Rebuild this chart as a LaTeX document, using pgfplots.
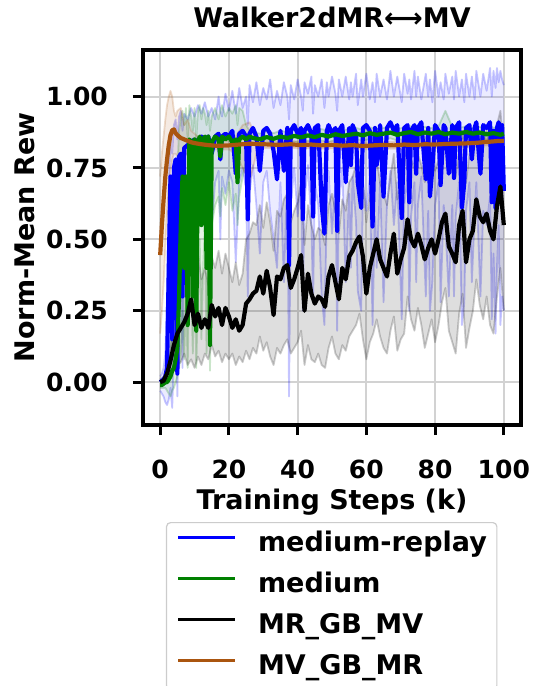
\documentclass[border=0pt]{standalone}
\usepackage{fontspec}
\setmainfont{DejaVu Sans}
\newfontfamily\arrowfont{DejaVu Sans}
\usepackage{pgfplots}
\usepackage{pgfplotstable}
\pgfplotsset{compat=1.18}
\definecolor{mrblue}{RGB}{0,0,255}
\definecolor{mgreen}{RGB}{0,128,0}
\definecolor{vbrown}{RGB}{170,85,15}
\definecolor{gridc}{RGB}{210,210,210}

\pgfplotstableread{
x m lo hi
0 0.000 -0.03 0.02
0.5 0.005 -0.04 0.03
1 0.010 -0.05 0.05
1.5 0.020 -0.07 0.10
2 0.050 -0.08 0.30
2.5 0.400 -0.06 0.70
3 0.720 -0.02 0.85
3.5 0.150 -0.09 0.80
4 0.750 0.10 0.90
4.5 0.780 0.30 0.92
5 0.030 -0.05 0.85
5.5 0.790 0.35 0.93
6 0.800 0.45 0.95
6.5 0.300 0.05 0.88
7 0.820 0.55 0.94
8 0.830 0.65 0.92
9 0.840 0.60 0.96
10 0.850 0.70 0.93
11 0.840 0.62 0.97
12 0.860 0.72 0.94
13 0.850 0.66 0.98
14 0.860 0.74 0.93
15 0.800 0.55 0.96
16 0.860 0.70 0.92
17 0.870 0.74 1.00
17.5 0.780 0.50 0.95
18 0.860 0.72 0.93
19 0.870 0.66 1.01
20 0.860 0.74 0.95
21 0.880 0.70 1.02
22 0.730 0.42 0.94
23 0.870 0.70 1.03
24 0.880 0.75 0.96
25 0.860 0.68 1.00
25.5 0.570 0.30 0.90
26 0.870 0.66 1.04
27 0.890 0.76 0.98
28 0.860 0.62 1.05
29 0.740 0.45 0.97
30 0.880 0.70 1.03
31 0.890 0.74 0.99
32 0.870 0.60 1.06
33 0.810 0.50 0.96
34 0.710 0.40 1.02
35 0.880 0.70 0.97
36 0.740 0.35 1.05
37 0.890 0.72 1.00
37.5 0.410 -0.05 0.92
38 0.880 0.62 1.04
39 0.900 0.75 0.99
40 0.870 0.58 1.06
41 0.890 0.72 1.00
41.5 0.570 0.25 0.95
42 0.880 0.64 1.05
43 0.900 0.76 1.01
44 0.870 0.55 1.07
44.5 0.580 0.28 0.94
45 0.890 0.70 1.04
46 0.900 0.62 1.00
47 0.620 0.30 1.06
47.8 0.520 0.20 0.96
48.5 0.880 0.60 1.05
49 0.900 0.74 1.00
50 0.870 0.52 1.07
51 0.890 0.70 1.01
51.5 0.530 0.18 0.95
52 0.880 0.62 1.06
53 0.900 0.75 1.00
54 0.700 0.35 1.07
55 0.890 0.66 0.99
55.5 0.760 0.40 1.05
56 0.900 0.72 1.00
57 0.870 0.56 1.08
57.5 0.700 0.32 0.97
58.5 0.610 0.25 1.06
59 0.890 0.70 1.00
60 0.900 0.60 1.08
61 0.880 0.72 0.99
61.8 0.545 0.20 1.05
62.5 0.890 0.58 0.98
63 0.760 0.40 1.08
64 0.900 0.70 1.00
65 0.650 0.28 1.06
66 0.890 0.62 0.99
67 0.910 0.74 1.09
68 0.880 0.55 1.00
69 0.900 0.70 1.07
70.3 0.575 0.22 0.98
71 0.890 0.62 1.08
72 0.900 0.72 1.01
72.5 0.630 0.25 1.06
73 0.880 0.58 0.99
74 0.900 0.70 1.09
74.5 0.730 0.35 1.00
75 0.890 0.62 1.07
76 0.910 0.72 0.99
77.3 0.710 0.30 1.08
78 0.890 0.60 1.00
78.5 0.650 0.25 1.06
79.2 0.750 0.35 0.98
80 0.900 0.62 1.09
81 0.880 0.70 1.00
81.6 0.690 0.28 1.05
82.5 0.900 0.62 0.99
83 0.890 0.55 1.08
84 0.730 0.30 1.01
85 0.900 0.62 1.07
85.5 0.715 0.30 0.99
86 0.890 0.58 1.09
87 0.910 0.70 1.00
87.8 0.610 0.20 1.06
88.5 0.700 0.28 0.98
89 0.890 0.60 1.08
90 0.900 0.70 1.00
90.7 0.780 0.35 1.07
91.5 0.890 0.58 0.99
92 0.910 0.70 1.09
93.2 0.730 0.30 1.00
94 0.900 0.60 1.08
95 0.890 0.55 1.02
96 0.910 0.65 1.10
96.5 0.630 0.22 1.00
97 0.880 0.45 1.09
97.6 0.610 0.17 1.03
98 0.890 0.40 1.10
98.5 0.910 0.55 1.05
99 0.650 0.20 1.09
99.5 0.900 0.30 1.06
100 0.670 0.25 1.04
}\tblue

\pgfplotstableread{
x m lo hi
0 -0.010 -0.02 0.00
0.5 -0.010 -0.02 0.00
1 -0.005 -0.02 0.01
1.5 0.000 -0.02 0.02
2 0.000 -0.03 0.03
2.5 0.010 -0.04 0.06
3 0.020 -0.05 0.10
3.5 0.040 -0.03 0.20
4 0.050 -0.02 0.40
4.5 0.080 0.00 0.60
5 0.120 0.02 0.75
5.5 0.300 0.05 0.88
6 0.550 0.10 0.92
6.5 0.720 0.25 0.95
7 0.400 0.08 0.90
7.5 0.720 0.30 0.96
8 0.200 0.05 0.85
8.5 0.850 0.40 0.97
9 0.840 0.35 0.93
9.5 0.300 0.10 0.88
10 0.850 0.45 0.96
10.5 0.180 0.05 0.85
11 0.840 0.30 0.95
11.5 0.860 0.50 0.97
12 0.550 0.15 0.92
12.5 0.850 0.40 0.96
13 0.860 0.55 0.94
13.5 0.400 0.10 0.90
14 0.860 0.50 0.95
14.5 0.130 0.04 0.88
15 0.840 0.55 0.93
16 0.860 0.62 0.96
17 0.850 0.65 0.92
17.5 0.790 0.58 0.95
18 0.860 0.68 0.97
19 0.850 0.62 0.93
20 0.860 0.70 0.96
21 0.840 0.60 0.94
22 0.850 0.66 0.97
22.5 0.700 0.55 0.90
23 0.850 0.65 0.96
24 0.860 0.72 0.95
25 0.850 0.78 0.90
26 0.860 0.82 0.88
27 0.855 0.835 0.875
29 0.850 0.830 0.870
31 0.858 0.838 0.878
33 0.852 0.832 0.872
35 0.860 0.840 0.880
37 0.855 0.835 0.875
39 0.862 0.842 0.882
41 0.857 0.837 0.877
43 0.864 0.844 0.884
45 0.858 0.838 0.878
47 0.866 0.846 0.886
49 0.860 0.840 0.880
51 0.868 0.848 0.888
53 0.862 0.842 0.882
55 0.866 0.846 0.886
57 0.870 0.850 0.890
59 0.864 0.844 0.884
61 0.872 0.852 0.892
63 0.866 0.846 0.886
65 0.870 0.850 0.890
67 0.874 0.854 0.894
69 0.866 0.846 0.886
71 0.872 0.852 0.892
73 0.876 0.856 0.896
75 0.868 0.848 0.888
77 0.874 0.854 0.894
79 0.870 0.850 0.890
81 0.876 0.856 0.896
83 0.868 0.848 0.950
85 0.874 0.854 0.894
87 0.870 0.850 0.890
89 0.876 0.856 0.896
91 0.870 0.850 0.890
93 0.874 0.854 0.894
95 0.868 0.848 0.888
97 0.872 0.852 0.892
99 0.866 0.846 0.886
100 0.870 0.850 0.890
}\tgreen

\pgfplotstableread{
x m lo hi
0 0.000 -0.01 0.01
1 0.005 -0.01 0.02
2 0.030 0.00 0.06
3 0.075 0.02 0.13
4 0.130 0.04 0.22
5 0.170 0.06 0.30
6 0.190 0.07 0.36
7 0.210 0.10 0.40
8 0.240 0.06 0.45
9 0.290 0.08 0.52
10 0.200 0.05 0.38
11 0.240 0.09 0.45
12 0.190 0.06 0.36
13 0.220 0.10 0.40
14 0.190 0.08 0.34
15 0.270 0.13 0.44
16 0.230 0.09 0.40
17 0.260 0.11 0.46
18 0.200 0.07 0.38
19 0.260 0.10 0.45
20 0.230 0.08 0.40
21 0.190 0.10 0.35
22 0.220 0.06 0.42
23 0.180 0.09 0.34
24 0.200 0.07 0.38
25 0.275 0.11 0.50
26 0.290 0.08 0.52
27 0.310 0.12 0.56
28 0.320 0.10 0.55
29 0.370 0.16 0.62
30 0.310 0.11 0.54
31 0.390 0.14 0.63
32 0.330 0.09 0.56
33 0.235 0.06 0.46
34 0.370 0.12 0.60
35 0.360 0.10 0.58
36 0.400 0.13 0.64
37 0.410 0.15 0.66
38 0.330 0.10 0.56
39 0.360 0.12 0.60
40 0.400 0.14 0.63
41 0.445 0.18 0.70
42 0.250 0.06 0.48
43 0.380 0.13 0.62
44 0.310 0.08 0.55
45 0.275 0.07 0.50
46 0.300 0.10 0.54
47 0.290 0.06 0.53
48 0.264 0.05 0.48
49 0.370 0.12 0.62
50 0.410 0.16 0.66
51 0.350 0.10 0.60
52 0.290 0.08 0.52
53 0.400 0.13 0.64
54 0.360 0.11 0.60
55 0.440 0.16 0.70
56 0.460 0.18 0.72
57 0.490 0.20 0.76
58 0.510 0.24 0.78
59 0.440 0.15 0.70
60 0.310 0.08 0.56
61 0.400 0.14 0.66
62 0.450 0.17 0.72
63 0.500 0.22 0.78
64 0.430 0.16 0.70
65 0.400 0.12 0.66
66 0.370 0.10 0.62
67 0.450 0.18 0.72
68 0.520 0.23 0.80
69 0.380 0.11 0.64
70 0.430 0.15 0.70
71 0.470 0.17 0.76
72 0.570 0.30 0.84
73 0.500 0.22 0.78
74 0.475 0.18 0.75
75 0.520 0.26 0.80
76 0.480 0.20 0.76
77 0.430 0.12 0.70
78 0.470 0.17 0.76
79 0.500 0.22 0.78
80 0.450 0.14 0.74
81 0.500 0.20 0.78
82 0.560 0.28 0.84
83 0.590 0.33 0.86
84 0.475 0.18 0.76
85 0.450 0.14 0.74
86 0.420 0.10 0.72
87 0.550 0.24 0.82
88 0.600 0.31 0.88
89 0.420 0.12 0.70
90 0.500 0.19 0.80
91 0.530 0.25 0.82
92 0.640 0.36 0.90
93 0.580 0.27 0.86
94 0.560 0.22 0.84
95 0.590 0.30 0.88
96 0.530 0.20 0.82
97 0.500 0.17 0.80
98 0.615 0.30 0.90
99 0.685 0.40 0.95
100 0.550 0.25 0.82
}\tblack

\pgfplotstableread{
x m lo hi
0 0.445 0.17 0.72
0.5 0.550 0.25 0.80
1 0.640 0.35 0.86
1.5 0.720 0.48 0.92
2 0.780 0.60 0.97
2.5 0.830 0.68 1.00
3 0.865 0.74 1.02
3.5 0.882 0.78 1.00
4 0.885 0.80 0.95
4.5 0.872 0.80 0.93
5 0.865 0.79 0.95
6 0.855 0.78 0.96
7 0.850 0.80 0.90
8 0.845 0.80 0.92
9 0.840 0.80 0.88
10 0.837 0.81 0.87
11 0.835 0.81 0.86
12 0.833 0.815 0.855
14 0.830 0.815 0.845
16 0.828 0.815 0.842
18 0.828 0.815 0.842
20 0.829 0.815 0.843
22 0.831 0.80 0.86
24 0.833 0.75 0.90
26 0.835 0.70 0.91
28 0.834 0.80 0.86
30 0.833 0.82 0.846
32 0.832 0.820 0.844
35 0.831 0.819 0.843
38 0.833 0.821 0.845
41 0.830 0.818 0.842
44 0.832 0.820 0.844
47 0.829 0.817 0.841
50 0.831 0.819 0.843
53 0.828 0.816 0.840
56 0.830 0.818 0.842
59 0.827 0.815 0.839
62 0.829 0.817 0.841
65 0.831 0.819 0.843
68 0.829 0.817 0.841
71 0.832 0.820 0.844
74 0.830 0.818 0.842
77 0.833 0.821 0.845
80 0.832 0.820 0.844
83 0.834 0.822 0.846
86 0.835 0.823 0.847
89 0.836 0.824 0.848
92 0.838 0.826 0.850
95 0.841 0.829 0.853
98 0.844 0.832 0.856
100 0.845 0.833 0.857
}\tbrown

% band outlines: upper edge forward, lower edge backward
\pgfplotstablesort[sort key=x, sort cmp=float <]{\bandB}{\tblue}
\pgfplotstablesort[sort key=x, sort cmp=float >]{\bandBr}{\tblue}
\pgfplotstablecreatecol[expr={\thisrow{hi}}]{b}{\bandB}
\pgfplotstablecreatecol[expr={\thisrow{lo}}]{b}{\bandBr}
\pgfplotstablevertcat{\bandB}{\bandBr}

\pgfplotstablesort[sort key=x, sort cmp=float <]{\bandG}{\tgreen}
\pgfplotstablesort[sort key=x, sort cmp=float >]{\bandGr}{\tgreen}
\pgfplotstablecreatecol[expr={\thisrow{hi}}]{b}{\bandG}
\pgfplotstablecreatecol[expr={\thisrow{lo}}]{b}{\bandGr}
\pgfplotstablevertcat{\bandG}{\bandGr}

\pgfplotstablesort[sort key=x, sort cmp=float <]{\bandK}{\tblack}
\pgfplotstablesort[sort key=x, sort cmp=float >]{\bandKr}{\tblack}
\pgfplotstablecreatecol[expr={\thisrow{hi}}]{b}{\bandK}
\pgfplotstablecreatecol[expr={\thisrow{lo}}]{b}{\bandKr}
\pgfplotstablevertcat{\bandK}{\bandKr}

\pgfplotstablesort[sort key=x, sort cmp=float <]{\bandR}{\tbrown}
\pgfplotstablesort[sort key=x, sort cmp=float >]{\bandRr}{\tbrown}
\pgfplotstablecreatecol[expr={\thisrow{hi}}]{b}{\bandR}
\pgfplotstablecreatecol[expr={\thisrow{lo}}]{b}{\bandRr}
\pgfplotstablevertcat{\bandR}{\bandRr}

\begin{document}
\begin{tikzpicture}
\begin{axis}[
  at={(0pt,0pt)}, anchor=south west,
  scale only axis, width=378pt, height=375pt,
  xmin=-5, xmax=105, ymin=-0.15, ymax=1.163,
  xtick={0,20,40,60,80,100},
  ytick={0,0.25,0.5,0.75,1},
  /pgf/number format/assume math mode=true,
  tick pos=left, tick align=outside,
  major tick length=10pt,
  every tick/.style={black, line width=3pt},
  axis line style={line width=4pt, black},
  grid=major, grid style={gridc, line width=2pt},
  tick label style={font=\fontsize{25}{25}\selectfont\bfseries, inner sep=0pt},
  xticklabel style={anchor=base, yshift=-43pt},
  yticklabel style={anchor=east, xshift=-25pt, /pgf/number format/fixed, /pgf/number format/fixed zerofill, /pgf/number format/precision=2},
  title={Walker2dMR{\arrowfont ⟷}MV},
  title style={at={(0.5,1.0427)}, anchor=base, font=\fontsize{27}{27}\selectfont\bfseries, inner sep=0pt},
  xlabel={Training Steps (k)},
  xlabel style={at={(0.5,-0.224)}, anchor=base, font=\fontsize{27}{27}\selectfont\bfseries, inner sep=0pt},
  ylabel={Norm-Mean Rew},
  ylabel style={at={(-0.3122,0.5)}, anchor=center, font=\fontsize{27}{27}\selectfont\bfseries, inner sep=0pt},
  legend cell align=left,
  legend style={at={(0.0608,-0.2587)}, anchor=north west, draw=black!20, fill=white,
    line width=1.2pt, rounded corners=4pt, inner xsep=10pt, inner ysep=9pt,
    row sep=15pt, column sep=0pt,
    font=\fontsize{27}{27}\selectfont\bfseries,
    nodes={inner sep=0pt, text height=20pt, text depth=6pt}},
  legend image code/.code={\draw[#1, line width=3pt, opacity=1] (0pt,7pt) -- (57pt,7pt); \path[draw=none, fill=none] (0pt,7pt) -- (80pt,7pt);},
]
% bands
\addplot[fill=mrblue, fill opacity=0.08, draw=none, forget plot] table[x=x,y=b]{\bandB};
\addplot[mrblue, opacity=0.22, line width=1.8pt, line join=round, forget plot] table[x=x,y=hi]{\tblue};
\addplot[mrblue, opacity=0.22, line width=1.8pt, line join=round, forget plot] table[x=x,y=lo]{\tblue};
\addplot[fill=mgreen, fill opacity=0.1, draw=none, forget plot] table[x=x,y=b]{\bandG};
\addplot[mgreen, opacity=0.2, line width=1.8pt, line join=round, forget plot] table[x=x,y=hi]{\tgreen};
\addplot[mgreen, opacity=0.2, line width=1.8pt, line join=round, forget plot] table[x=x,y=lo]{\tgreen};
\addplot[fill=black, fill opacity=0.13, draw=none, forget plot] table[x=x,y=b]{\bandK};
\addplot[black, opacity=0.2, line width=1.8pt, line join=round, forget plot] table[x=x,y=hi]{\tblack};
\addplot[black, opacity=0.2, line width=1.8pt, line join=round, forget plot] table[x=x,y=lo]{\tblack};
\addplot[fill=vbrown, fill opacity=0.12, draw=none, forget plot] table[x=x,y=b]{\bandR};
\addplot[vbrown, opacity=0.2, line width=1.8pt, line join=round, forget plot] table[x=x,y=hi]{\tbrown};
\addplot[vbrown, opacity=0.2, line width=1.8pt, line join=round, forget plot] table[x=x,y=lo]{\tbrown};
% means
\addplot[mrblue, line width=4.2pt, line join=round] table[x=x,y=m]{\tblue};
\addlegendentry{medium-replay}
\addplot[mgreen, line width=4.2pt, line join=round] table[x=x,y=m]{\tgreen};
\addlegendentry{medium}
\addplot[black, line width=4.2pt, line join=round] table[x=x,y=m]{\tblack};
\addlegendentry{MR\_GB\_MV}
\addplot[vbrown, line width=4.2pt, line join=round] table[x=x,y=m]{\tbrown};
\addlegendentry{MV\_GB\_MR}
\end{axis}
\pgfresetboundingbox
\path[use as bounding box] (-143pt,-261pt) rectangle (391pt,425pt);
\end{tikzpicture}
\end{document}
